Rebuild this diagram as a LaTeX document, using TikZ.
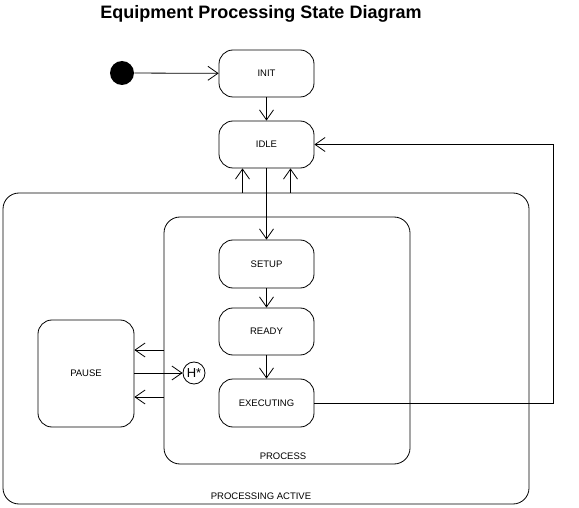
\documentclass[tikz,border=0pt]{standalone}
\usepackage{fontspec}
\setmainfont{Liberation Sans}
\usetikzlibrary{arrows.meta}
\begin{document}
\begin{tikzpicture}[x=1pt,y=-1pt,
  line width=0.8pt,
  arr/.style={-{Straight Barb[length=10pt,width=14pt,line width=0.8pt]}},
  statebox/.style={draw,rounded corners=14pt,minimum width=95pt,minimum height=47pt,inner sep=0pt,font=\fontsize{9.5}{11}\selectfont},
  region/.style={draw,rounded corners=16pt,inner sep=0pt},
  lbl/.style={font=\fontsize{9.5}{11}\selectfont,inner sep=0pt}]
\useasboundingbox[fill=white] (0,0) rectangle (579,508);
\node[font=\bfseries\fontsize{18}{21}\selectfont,inner sep=0pt] (title) at (261,14) {Equipment Processing State Diagram};
\node[region,minimum width=526pt,minimum height=311pt] (outer) at (266,348.5) {};
\node[region,minimum width=246pt,minimum height=247pt] (process) at (287,340.5) {};
\node[lbl] (plbl) at (283,456) {PROCESS};
\node[lbl] (olbl) at (261,496) {PROCESSING ACTIVE};
\node[circle,fill=black,minimum size=24pt,inner sep=0pt] (start) at (122,73) {};
\node[statebox] (init) at (266.5,73.5) {INIT};
\node[statebox] (idle) at (266.5,144.5) {IDLE};
\node[statebox,minimum height=48pt] (setup) at (266.5,264) {SETUP};
\node[statebox] (ready) at (266.5,331.5) {READY};
\node[statebox,minimum height=48pt] (exec) at (266.5,403) {EXECUTING};
\node[statebox,minimum width=96pt,minimum height=107pt] (pause) at (86,373.5) {PAUSE};
\node[draw,circle,minimum size=22pt,inner sep=0pt,font=\fontsize{13}{15}\selectfont] (hist) at (194,373) {H*};
\draw[arr] (start) -- (init);
\draw[arr] (init) -- (idle);
\draw[arr] ([xshift=-24pt]idle.south |- outer.north) -- ([xshift=-24pt]idle.south);
\draw[arr] ([xshift=24pt]idle.south |- outer.north) -- ([xshift=24pt]idle.south);
\draw[arr] (idle) -- (setup);
\draw[arr] (setup) -- (ready);
\draw[arr] (ready) -- (exec);
\draw[arr] (exec.east) -- ++(239,0) |- (idle.east);
\draw[arr] ([yshift=23.5pt]pause.east -| process.west) -- ([yshift=23.5pt]pause.east);
\draw[arr] ([yshift=-23.5pt]pause.east -| process.west) -- ([yshift=-23.5pt]pause.east);
\draw[arr] (pause.east |- hist) -- (hist);
\end{tikzpicture}
\end{document}
